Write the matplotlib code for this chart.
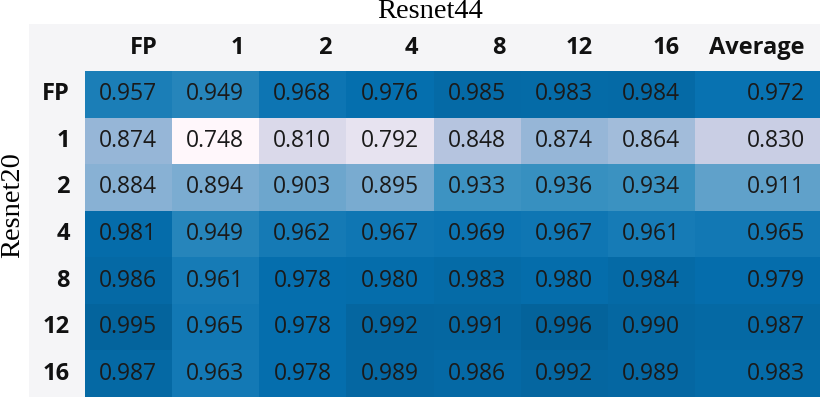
import numpy as np
import matplotlib
matplotlib.use("Agg")
import matplotlib.pyplot as plt

# Dados da tabela
rows = ['FP', '1', '2', '4', '8', '12', '16']
cols = ['FP', '1', '2', '4', '8', '12', '16', 'Average']
vals = np.array([
    [0.957, 0.949, 0.968, 0.976, 0.985, 0.983, 0.984, 0.972],
    [0.874, 0.748, 0.810, 0.792, 0.848, 0.874, 0.864, 0.830],
    [0.884, 0.894, 0.903, 0.895, 0.933, 0.936, 0.934, 0.911],
    [0.981, 0.949, 0.962, 0.967, 0.969, 0.967, 0.961, 0.965],
    [0.986, 0.961, 0.978, 0.980, 0.983, 0.980, 0.984, 0.979],
    [0.995, 0.965, 0.978, 0.992, 0.991, 0.996, 0.990, 0.987],
    [0.987, 0.963, 0.978, 0.989, 0.986, 0.992, 0.989, 0.983],
])
title_top = 'Resnet44'
title_left = 'Resnet20'

W, H = 823, 398
fig = plt.figure(figsize=(W / 100, H / 100), dpi=100)

# eixo cobrindo a tabela (em pixels da figura)
x0, x1, y0, y1 = 28.5, 820, 24, 397
ax = fig.add_axes([x0 / W, 1 - y1 / H, (x1 - x0) / W, (y1 - y0) / H])
ax.set_facecolor('#f5f5f7')

cw = 87.1
xedges = np.concatenate([np.arange(8), [7 + 125 / cw]])
yedges = np.arange(len(rows) + 1)
ax.pcolormesh(xedges, yedges, vals, cmap='PuBu', vmin=0.748, vmax=1.05)

rowlab_w = (85 - x0) / cw
ax.set_xlim(-rowlab_w, xedges[-1])
ax.set_ylim(len(rows), -(71 - y0) / 46.6)
ax.set_xticks([])
ax.set_yticks([])
for s in ax.spines.values():
    s.set_visible(False)

pad = 15 / cw
fnt = ['Open Sans', 'DejaVu Sans']
for j, c in enumerate(cols):
    ax.text(xedges[j + 1] - pad, -0.5, c, ha='right', va='center',
            fontsize=17, fontweight='bold', family=fnt, color='#111111')
for i, r in enumerate(rows):
    ax.text(-pad, i + 0.5, r, ha='right', va='center',
            fontsize=17, fontweight='bold', family=fnt, color='#111111')
    for j in range(len(cols)):
        ax.text(xedges[j + 1] - pad, i + 0.5, f'{vals[i, j]:.3f}', ha='right',
                va='center', fontsize=16.5, family=fnt, color='#1a1a1a')

fig.text(430 / W, 1 - 12 / H, title_top, ha='center', va='center',
         fontsize=20.5, family='Liberation Serif')
fig.text(13 / W, 1 - 205 / H, title_left, ha='center', va='center',
         rotation=90, fontsize=20.5, family='Liberation Serif')

fig.savefig('out.png', dpi=100)
